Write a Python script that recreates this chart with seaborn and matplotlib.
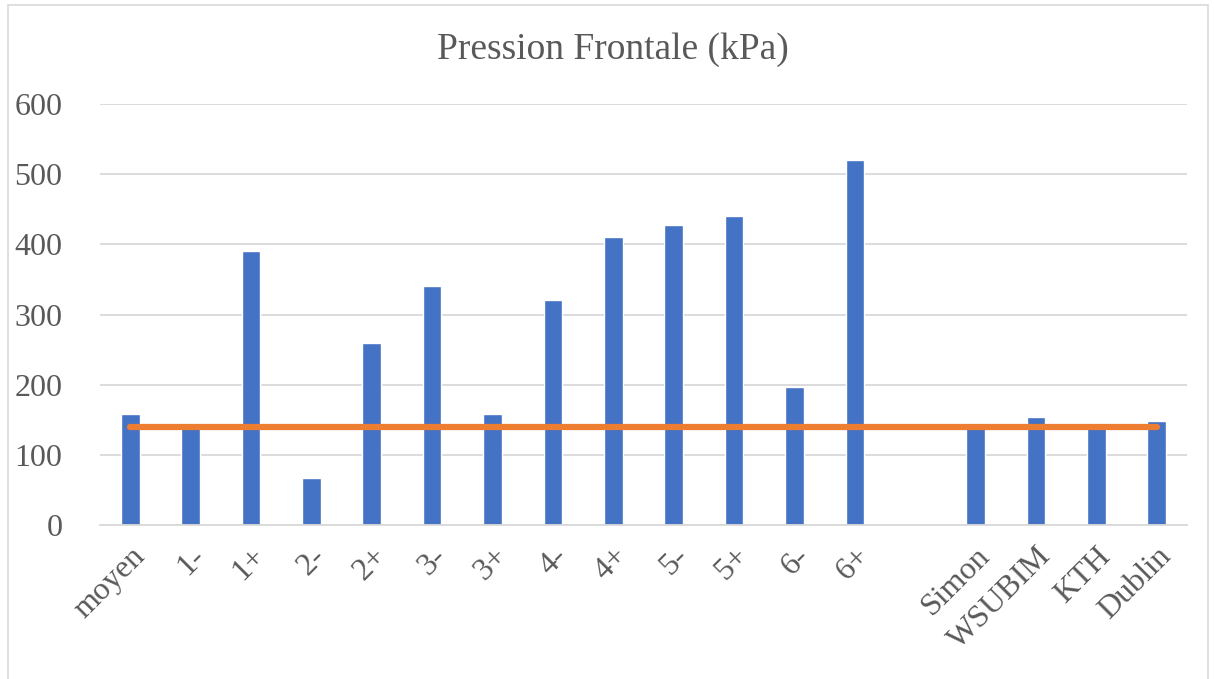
import matplotlib
matplotlib.use("Agg")
import matplotlib.pyplot as plt
import pandas as pd
import seaborn as sns

# categories (one empty slot between "6+" and "Simon")
order = ["moyen", "1-", "1+", "2-", "2+", "3-", "3+", "4-", "4+", "5-", "5+",
         "6-", "6+", "", "Simon", "WSUBIM", "KTH", "Dublin"]
labels = ["moyen", "1-", "1+", "2-", "2+", "3-", "3+", "4-", "4+", "5-", "5+",
          "6-", "6+", "Simon", "WSUBIM", "KTH", "Dublin"]
pression = [158, 138, 390, 67, 260, 340, 158, 320, 410, 428, 440,
            196, 520, 138, 154, 138, 148]
reference = 140
yticks = [0, 100, 200, 300, 400, 500, 600]

BLUE = "#4472C4"
ORANGE = "#ED7D31"
GREY_TXT = "#595959"
GRID = "#D9D9D9"

sns.set_theme(style="white")
plt.rcParams["font.family"] = ["Liberation Serif", "DejaVu Serif"]

df = pd.DataFrame({"cat": labels, "kpa": pression})

fig = plt.figure(figsize=(12.14, 6.79), dpi=100)
ax = fig.add_axes([100 / 1214, 1 - 525 / 679, 1087 / 1214, 421 / 679])

sns.barplot(data=df, x="cat", y="kpa", order=order, color=BLUE,
            width=0.31, saturation=1, ax=ax, zorder=2)
ax.plot(range(len(order)), [reference] * len(order), color=ORANGE, lw=4.5,
        solid_capstyle="round", zorder=3)

ax.set_ylim(0, 600)
ax.set_xlim(-0.5, len(order) - 0.5)
ax.set_yticks(yticks)
ax.yaxis.grid(True, color=GRID, lw=1.3, zorder=0)
ax.set_axisbelow(True)
for s in ["top", "right", "left"]:
    ax.spines[s].set_visible(False)
ax.spines["bottom"].set_color(GRID)
ax.spines["bottom"].set_linewidth(1.3)
ax.tick_params(axis="both", length=0, labelsize=23, colors=GREY_TXT)
ax.tick_params(axis="y", pad=27)
plt.setp(ax.get_xticklabels(), rotation=45, ha="right",
         rotation_mode="anchor")
ax.tick_params(axis="x", pad=12)
ax.set_xlabel("")
ax.set_ylabel("")

fig.text(0.505, 1 - 50 / 679, "Pression Frontale (kPa)", ha="center",
         va="center", fontsize=27, color=GREY_TXT)

# chart area border
fig.patches.append(plt.Rectangle((8 / 1214, -0.01), 1200 / 1214, 1 - 5 / 679 + 0.01,
                                 transform=fig.transFigure, fill=False,
                                 edgecolor=GRID, lw=1.2))

fig.savefig("out.png", dpi=100, facecolor="white")
